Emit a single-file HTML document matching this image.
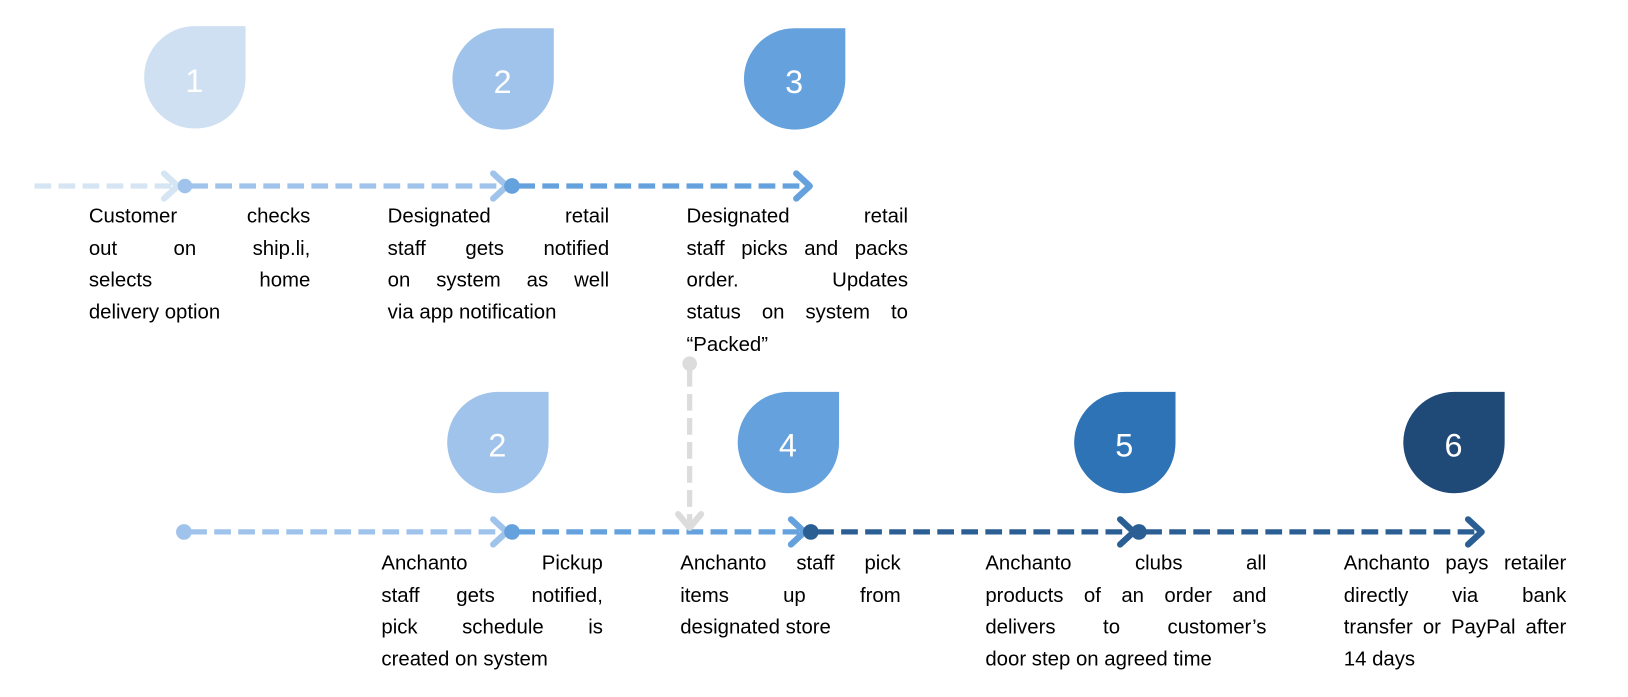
<!DOCTYPE html>
<html><head><meta charset="utf-8"><style>
html,body{margin:0;padding:0;background:#fff;width:1628px;height:697px;overflow:hidden}
#w{position:absolute;left:0;top:0;width:1558px;height:667px;transform:scale(1.0449,1.045);transform-origin:0 0}
svg{position:absolute;left:0;top:0}
.t{position:absolute;font-family:"Liberation Sans",sans-serif;font-size:19.5px;line-height:30.7px;color:#000}
.t div{white-space:nowrap;height:30.7px}
.t .j{text-align:justify;text-align-last:justify}
</style></head><body><div id="w">
<svg width="1558" height="667" viewBox="0 0 1558 667">
<g fill="none" stroke-width="5" stroke-dasharray="16 7">
<line x1="33" y1="178" x2="165" y2="178" stroke="#d6e5f4"/>
<line x1="183" y1="178" x2="480" y2="178" stroke="#9fc3ea"/>
<line x1="496" y1="178" x2="768" y2="178" stroke="#64a1dd"/>
<line x1="182" y1="509" x2="480" y2="509" stroke="#9fc3ea"/>
<line x1="496" y1="509" x2="765" y2="509" stroke="#64a1dd"/>
<line x1="782" y1="509" x2="1080" y2="509" stroke="#2b5f94"/>
<line x1="1096" y1="509" x2="1412" y2="509" stroke="#2b5f94"/>
<line x1="660" y1="354" x2="660" y2="500" stroke="#dcdcdc"/>
</g>
<g fill="none" stroke-width="6" stroke-linecap="round" stroke-linejoin="round">
<polyline points="157,166 170,178 157,190" stroke="#d6e5f4"/>
<polyline points="472,166 485,178 472,190" stroke="#9fc3ea"/>
<polyline points="762,166 775,178 762,190" stroke="#64a1dd"/>
<polyline points="472,497 485,509 472,521" stroke="#9fc3ea"/>
<polyline points="757,497 770,509 757,521" stroke="#64a1dd"/>
<polyline points="1072,497 1085,509 1072,521" stroke="#2b5f94"/>
<polyline points="1405,497 1418,509 1405,521" stroke="#2b5f94"/>
<polyline points="649,492 660,505 671,492" stroke="#dcdcdc"/>
</g>
<circle cx="177" cy="178" r="7" fill="#9fc3ea"/>
<circle cx="490" cy="178" r="7.5" fill="#64a1dd"/>
<circle cx="176" cy="509" r="7.5" fill="#9fc3ea"/>
<circle cx="490" cy="509" r="7.5" fill="#64a1dd"/>
<circle cx="776" cy="509" r="7.5" fill="#2b5f94"/>
<circle cx="1090" cy="509" r="7.5" fill="#2b5f94"/>
<circle cx="660" cy="348" r="7" fill="#dcdcdc"/>
<g font-family="Liberation Sans, sans-serif" font-size="31" fill="#fff" text-anchor="middle">
<path d="M235,25 V74 C235,105 212,123 186.5,123 C161,123 138,102 138,74 A48.5,48.5 0 0 1 186.5,25 Z" fill="#cfe0f2"/>
<text x="186" y="88">1</text>
<path d="M530,27 V75 C530,106 507,124 481.5,124 C456,124 433,103 433,75 A48.5,48.5 0 0 1 481.5,27 Z" fill="#9fc3ea"/>
<text x="481" y="89">2</text>
<path d="M809,27 V75 C809,106 786,124 760.5,124 C735,124 712,103 712,75 A48.5,48.5 0 0 1 760.5,27 Z" fill="#64a1dd"/>
<text x="760" y="89">3</text>
<path d="M525,375 V423 C525,454 502,472 476.5,472 C451,472 428,451 428,423 A48.5,48.5 0 0 1 476.5,375 Z" fill="#9fc3ea"/>
<text x="476" y="437">2</text>
<path d="M803,375 V423 C803,454 780,472 754.5,472 C729,472 706,451 706,423 A48.5,48.5 0 0 1 754.5,375 Z" fill="#64a1dd"/>
<text x="754" y="437">4</text>
<path d="M1125,375 V423 C1125,454 1102,472 1076.5,472 C1051,472 1028,451 1028,423 A48.5,48.5 0 0 1 1076.5,375 Z" fill="#2e73b5"/>
<text x="1076" y="437">5</text>
<path d="M1440,375 V423 C1440,454 1417,472 1391.5,472 C1366,472 1343,451 1343,423 A48.5,48.5 0 0 1 1391.5,375 Z" fill="#1f4a78"/>
<text x="1391" y="437">6</text>
</g>
</svg>
<div class="t" style="left:85px;top:192px;width:212px"><div class="j">Customer checks</div><div class="j">out on ship.li,</div><div class="j">selects home</div><div>delivery option</div></div>
<div class="t" style="left:371px;top:192px;width:212px"><div class="j">Designated retail</div><div class="j">staff gets notified</div><div class="j">on system as well</div><div>via app notification</div></div>
<div class="t" style="left:657px;top:192px;width:212px"><div class="j">Designated retail</div><div class="j">staff picks and packs</div><div class="j">order. Updates</div><div class="j">status on system to</div><div>“Packed”</div></div>
<div class="t" style="left:365px;top:524px;width:212px"><div class="j">Anchanto Pickup</div><div class="j">staff gets notified,</div><div class="j">pick schedule is</div><div>created on system</div></div>
<div class="t" style="left:651px;top:524px;width:211px"><div class="j">Anchanto staff pick</div><div class="j">items up from</div><div>designated store</div></div>
<div class="t" style="left:943px;top:524px;width:269px"><div class="j">Anchanto clubs all</div><div class="j">products of an order and</div><div class="j">delivers to customer’s</div><div>door step on agreed time</div></div>
<div class="t" style="left:1286px;top:524px;width:213px"><div class="j">Anchanto pays retailer</div><div class="j">directly via bank</div><div class="j">transfer or PayPal after</div><div>14 days</div></div>
</div></body></html>
